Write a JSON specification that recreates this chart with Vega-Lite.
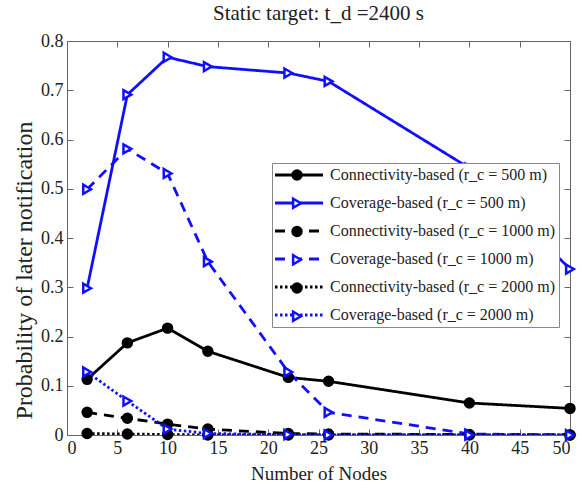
{
  "$schema": "https://vega.github.io/schema/vega-lite/v6.json",
  "width": 503,
  "height": 394,
  "autosize": {"type": "none"},
  "padding": {"left": 67, "top": 41, "right": 12, "bottom": 54},
  "background": "white",
  "title": {"text": "Static target: t_d =2400 s", "fontSize": 21, "font": "Liberation Serif", "fontWeight": "normal", "color": "#222", "offset": 8},
  "config": {
    "view": {"stroke": "#666", "strokeWidth": 1},
    "font": "Liberation Serif",
    "title": {"font": "Liberation Serif", "fontSize": 21, "fontWeight": "normal", "color": "#222"},
    "legend": {"labelFont": "Liberation Serif"},
    "axis": {"grid": false, "domainColor": "#666", "tickColor": "#666", "labelColor": "#222", "titleColor": "#222", "labelFont": "Liberation Serif", "titleFont": "Liberation Serif", "labelFontSize": 18, "titleFontWeight": "normal", "tickSize": -6}
  },
  "data": {"values": [
    {"series": "Connectivity-based (r_c = 500 m)", "nodes": 2, "p": 0.113},
    {"series": "Connectivity-based (r_c = 500 m)", "nodes": 6, "p": 0.187},
    {"series": "Connectivity-based (r_c = 500 m)", "nodes": 10, "p": 0.217},
    {"series": "Connectivity-based (r_c = 500 m)", "nodes": 14, "p": 0.170},
    {"series": "Connectivity-based (r_c = 500 m)", "nodes": 22, "p": 0.117},
    {"series": "Connectivity-based (r_c = 500 m)", "nodes": 26, "p": 0.109},
    {"series": "Connectivity-based (r_c = 500 m)", "nodes": 40, "p": 0.065},
    {"series": "Connectivity-based (r_c = 500 m)", "nodes": 50, "p": 0.054},
    {"series": "Coverage-based (r_c = 500 m)", "nodes": 2, "p": 0.298},
    {"series": "Coverage-based (r_c = 500 m)", "nodes": 6, "p": 0.691},
    {"series": "Coverage-based (r_c = 500 m)", "nodes": 10, "p": 0.767},
    {"series": "Coverage-based (r_c = 500 m)", "nodes": 14, "p": 0.748},
    {"series": "Coverage-based (r_c = 500 m)", "nodes": 22, "p": 0.735},
    {"series": "Coverage-based (r_c = 500 m)", "nodes": 26, "p": 0.718},
    {"series": "Coverage-based (r_c = 500 m)", "nodes": 40, "p": 0.542},
    {"series": "Coverage-based (r_c = 500 m)", "nodes": 50, "p": 0.337},
    {"series": "Connectivity-based (r_c = 1000 m)", "nodes": 2, "p": 0.046},
    {"series": "Connectivity-based (r_c = 1000 m)", "nodes": 6, "p": 0.034},
    {"series": "Connectivity-based (r_c = 1000 m)", "nodes": 10, "p": 0.022},
    {"series": "Connectivity-based (r_c = 1000 m)", "nodes": 14, "p": 0.012},
    {"series": "Connectivity-based (r_c = 1000 m)", "nodes": 22, "p": 0.003},
    {"series": "Connectivity-based (r_c = 1000 m)", "nodes": 26, "p": 0.002},
    {"series": "Connectivity-based (r_c = 1000 m)", "nodes": 40, "p": 0.001},
    {"series": "Connectivity-based (r_c = 1000 m)", "nodes": 50, "p": 0.0},
    {"series": "Coverage-based (r_c = 1000 m)", "nodes": 2, "p": 0.499},
    {"series": "Coverage-based (r_c = 1000 m)", "nodes": 6, "p": 0.581},
    {"series": "Coverage-based (r_c = 1000 m)", "nodes": 10, "p": 0.531},
    {"series": "Coverage-based (r_c = 1000 m)", "nodes": 14, "p": 0.352},
    {"series": "Coverage-based (r_c = 1000 m)", "nodes": 22, "p": 0.128},
    {"series": "Coverage-based (r_c = 1000 m)", "nodes": 26, "p": 0.046},
    {"series": "Coverage-based (r_c = 1000 m)", "nodes": 40, "p": 0.002},
    {"series": "Coverage-based (r_c = 1000 m)", "nodes": 50, "p": 0.0},
    {"series": "Connectivity-based (r_c = 2000 m)", "nodes": 2, "p": 0.003},
    {"series": "Connectivity-based (r_c = 2000 m)", "nodes": 6, "p": 0.002},
    {"series": "Connectivity-based (r_c = 2000 m)", "nodes": 10, "p": 0.001},
    {"series": "Connectivity-based (r_c = 2000 m)", "nodes": 14, "p": 0.0},
    {"series": "Connectivity-based (r_c = 2000 m)", "nodes": 22, "p": 0.0},
    {"series": "Connectivity-based (r_c = 2000 m)", "nodes": 26, "p": 0.0},
    {"series": "Connectivity-based (r_c = 2000 m)", "nodes": 40, "p": 0.0},
    {"series": "Connectivity-based (r_c = 2000 m)", "nodes": 50, "p": 0.0},
    {"series": "Coverage-based (r_c = 2000 m)", "nodes": 2, "p": 0.128},
    {"series": "Coverage-based (r_c = 2000 m)", "nodes": 6, "p": 0.069},
    {"series": "Coverage-based (r_c = 2000 m)", "nodes": 10, "p": 0.012},
    {"series": "Coverage-based (r_c = 2000 m)", "nodes": 14, "p": 0.003},
    {"series": "Coverage-based (r_c = 2000 m)", "nodes": 22, "p": 0.001},
    {"series": "Coverage-based (r_c = 2000 m)", "nodes": 26, "p": 0.0},
    {"series": "Coverage-based (r_c = 2000 m)", "nodes": 40, "p": 0.0},
    {"series": "Coverage-based (r_c = 2000 m)", "nodes": 50, "p": 0.0}
  ]},
  "layer": [
    {
      "mark": {"type": "line", "strokeWidth": 2.8, "clip": true},
      "encoding": {
        "x": {"field": "nodes", "type": "quantitative", "scale": {"domain": [0, 50], "nice": false},
          "axis": {"orient": "bottom", "values": [0, 5, 10, 15, 20, 25, 30, 35, 40, 45, 50], "title": "Number of Nodes", "titleFontSize": 19, "labelPadding": 10, "titlePadding": 7}},
        "y": {"field": "p", "type": "quantitative", "scale": {"domain": [0, 0.8], "nice": false},
          "axis": {"orient": "left", "values": [0, 0.1, 0.2, 0.3, 0.4, 0.5, 0.6, 0.7, 0.8], "format": ".1~f", "title": "Probability of later notification", "titleFontSize": 24, "titleY": 229, "labelPadding": 10, "titlePadding": 4}},
        "color": {"field": "series", "type": "nominal",
          "scale": {"domain": ["Connectivity-based (r_c = 500 m)", "Coverage-based (r_c = 500 m)", "Connectivity-based (r_c = 1000 m)", "Coverage-based (r_c = 1000 m)", "Connectivity-based (r_c = 2000 m)", "Coverage-based (r_c = 2000 m)"],
            "range": ["#000000", "#1010ff", "#000000", "#1010ff", "#000000", "#1010ff"]},
          "legend": {"orient": "none", "legendX": 205, "legendY": 122, "title": null, "symbolType": "M-8,0H8", "symbolSize": 36, "symbolOffset": 15, "symbolStrokeWidth": 3, "labelFontSize": 16, "labelFont": "Liberation Serif", "labelColor": "#222", "labelLimit": 400, "labelOffset": 23, "fillColor": "white", "strokeColor": "#888", "padding": 4, "rowPadding": 12}},
        "strokeDash": {"field": "series", "type": "nominal",
          "scale": {"domain": ["Connectivity-based (r_c = 500 m)", "Coverage-based (r_c = 500 m)", "Connectivity-based (r_c = 1000 m)", "Coverage-based (r_c = 1000 m)", "Connectivity-based (r_c = 2000 m)", "Coverage-based (r_c = 2000 m)"],
            "range": [[1, 0], [1, 0], [10, 7], [10, 7], [2.5, 2.5], [2.5, 2.5]]},
          "legend": {"orient": "none", "legendX": 205, "legendY": 122, "title": null}}
      }
    },
    {
      "mark": {"type": "point", "strokeWidth": 2.5, "opacity": 1},
      "encoding": {
        "x": {"field": "nodes", "type": "quantitative",
          "axis": {"orient": "top", "values": [0, 5, 10, 15, 20, 25, 30, 35, 40, 45, 50], "labels": false, "title": null, "domain": false}},
        "y": {"field": "p", "type": "quantitative",
          "axis": {"orient": "right", "values": [0, 0.1, 0.2, 0.3, 0.4, 0.5, 0.6, 0.7, 0.8], "labels": false, "title": null, "domain": false}},
        "color": {"field": "series", "type": "nominal",
          "legend": {"orient": "none", "legendX": 205, "legendY": 122, "title": null, "symbolSize": 80, "symbolOffset": 13, "symbolStrokeWidth": 2.5, "labelFontSize": 16, "labelFont": "Liberation Serif", "labelExpr": "' '", "labelLimit": 400, "padding": 4, "rowPadding": 8.25}},
        "shape": {"field": "series", "type": "nominal",
          "scale": {"domain": ["Connectivity-based (r_c = 500 m)", "Coverage-based (r_c = 500 m)", "Connectivity-based (r_c = 1000 m)", "Coverage-based (r_c = 1000 m)", "Connectivity-based (r_c = 2000 m)", "Coverage-based (r_c = 2000 m)"],
            "range": ["circle", "triangle-right", "circle", "triangle-right", "circle", "triangle-right"]},
          "legend": {"orient": "none", "legendX": 205, "legendY": 122, "title": null}},
        "fill": {"field": "series", "type": "nominal",
          "scale": {"domain": ["Connectivity-based (r_c = 500 m)", "Coverage-based (r_c = 500 m)", "Connectivity-based (r_c = 1000 m)", "Coverage-based (r_c = 1000 m)", "Connectivity-based (r_c = 2000 m)", "Coverage-based (r_c = 2000 m)"],
            "range": ["#000000", "#ffffff", "#000000", "#ffffff", "#000000", "#ffffff"]},
          "legend": {"orient": "none", "legendX": 205, "legendY": 122, "title": null}},
        "size": {"value": 80}
      }
    }
  ],
  "resolve": {"axis": {"x": "independent", "y": "independent"}, "legend": {"color": "independent", "strokeDash": "independent", "shape": "independent", "fill": "independent"}}
}
